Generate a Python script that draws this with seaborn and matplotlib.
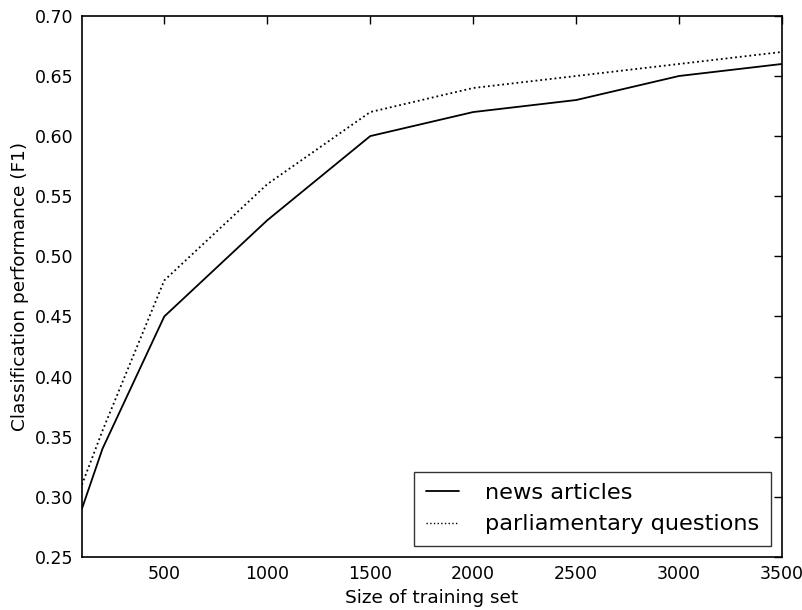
import matplotlib
matplotlib.use("Agg")
import matplotlib.pyplot as plt
import seaborn as sns
import pandas as pd

train_size = [100, 200, 500, 1000, 1500, 2000, 2500, 3000, 3500]
news_articles = [0.29, 0.34, 0.45, 0.53, 0.60, 0.62, 0.63, 0.65, 0.66]
parl_questions = [0.31, 0.355, 0.48, 0.56, 0.62, 0.64, 0.65, 0.66, 0.67]
series_names = ["news articles", "parliamentary questions"]

df = pd.concat([
    pd.DataFrame({"x": train_size, "y": news_articles, "series": series_names[0]}),
    pd.DataFrame({"x": train_size, "y": parl_questions, "series": series_names[1]}),
])

sns.set_theme(style="white")
plt.rcParams['font.family'] = ['DejaVu Sans']
plt.rcParams['text.color'] = 'black'
plt.rcParams['axes.labelcolor'] = 'black'

fig = plt.figure(figsize=(8.03, 6.10), dpi=100)
ax = fig.add_axes([0.102, 0.087, 0.872, 0.887])

sns.lineplot(data=df, x="x", y="y", hue="series", style="series",
             palette=["black", "black"], dashes=[(None, None), (1, 2)],
             linewidth=1.3, ax=ax, legend=False)
ax.lines[1].set_linestyle(":")

from matplotlib.lines import Line2D
handles = [Line2D([], [], color="black", lw=1.3, ls="-"),
           Line2D([], [], color="black", lw=1.0, ls=":")]
leg = ax.legend(handles, series_names, loc="lower right", fontsize=16.2,
                frameon=True, fancybox=False, borderpad=0.5, handlelength=1.5,
                handletextpad=1.15, labelspacing=0.5, borderaxespad=0.5)
leg.get_frame().set_edgecolor("black")
leg.get_frame().set_linewidth(1.0)
for t in leg.get_texts():
    t.set_color("black")

ax.set_xlim(100, 3500)
ax.set_ylim(0.25, 0.70)
ax.set_xticks([500, 1000, 1500, 2000, 2500, 3000, 3500])
ax.set_yticks([0.25, 0.30, 0.35, 0.40, 0.45, 0.50, 0.55, 0.60, 0.65, 0.70])
ax.set_yticklabels([f"{v:.2f}" for v in ax.get_yticks()])
ax.tick_params(direction="in", length=6, width=1, top=True, right=True,
               labelsize=12.5, colors="black", pad=6)
for s in ax.spines.values():
    s.set_color("black")
    s.set_linewidth(1.2)
ax.set_xlabel("Size of training set", fontsize=13.3, color="black")
ax.set_ylabel("Classification performance (F1)", fontsize=13.3, color="black")

fig.savefig("out.png", dpi=100)
